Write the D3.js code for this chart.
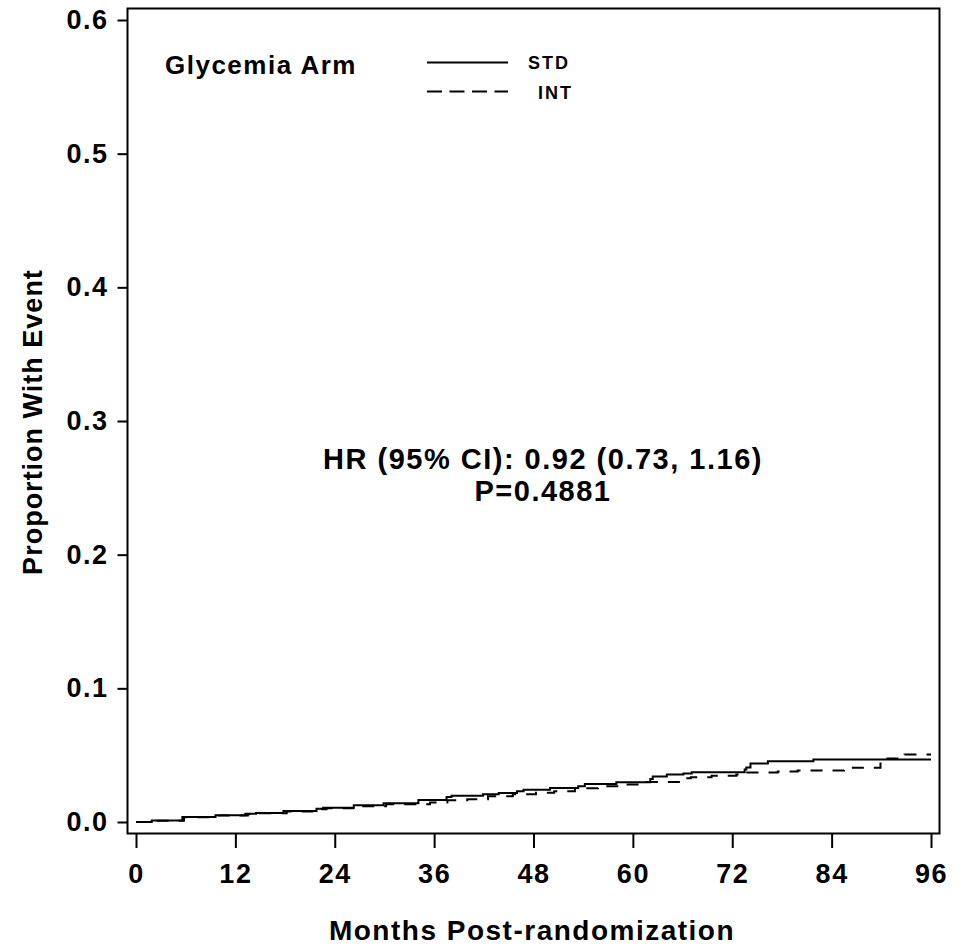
<!DOCTYPE html>
<html><head><meta charset="utf-8">
<script src="https://cdn.jsdelivr.net/npm/d3@7"></script>
<style>
body{margin:0;background:#fff;}
text{font-family:"Liberation Sans",Arial,sans-serif;font-weight:bold;fill:#000;}
</style></head>
<body><svg id="c" width="968" height="948"></svg>
<script>
const xTicks = [0,12,24,36,48,60,72,84,96];
const yTicks = [0.0,0.1,0.2,0.3,0.4,0.5,0.6];
const stdMonths = [0,1.9,5.6,9.6,13.2,14.5,17.8,21.8,22.6,26.3,29.9,34.1,37.5,38.1,41.9,43.8,46.0,46.8,50.0,53.4,54.2,58.0,62.1,62.4,64.1,66.1,67.1,73.5,73.7,74.2,76.3,81.8,96];
const stdValues = [0,0.0012,0.0037,0.005,0.0062,0.0068,0.0082,0.0100,0.0107,0.0125,0.0140,0.0165,0.0187,0.0197,0.0207,0.0217,0.0230,0.0242,0.0255,0.0267,0.0285,0.0297,0.0322,0.0340,0.0355,0.0362,0.0372,0.0392,0.0408,0.0437,0.0455,0.0468,0.0468];
const intMonths = [0,2.0,5.8,9.8,13.5,15.0,18.2,22.0,23.0,26.8,30.2,35.5,37.6,40.0,42.5,45.5,48.3,50.5,53.0,55.8,58.3,61.5,65.8,67.0,69.5,72.5,73.8,77.5,79.9,85.5,89.9,92.8,96];
const intValues = [0,0.0010,0.0035,0.0048,0.0058,0.0065,0.0078,0.0095,0.0102,0.0118,0.0133,0.0146,0.0163,0.0170,0.0193,0.0208,0.0218,0.0230,0.0252,0.0267,0.0280,0.0300,0.0327,0.0335,0.0346,0.0355,0.0370,0.0377,0.0385,0.0405,0.0476,0.0505,0.0505];
const legendTitle = "Glycemia Arm";
const seriesNames = ["STD","INT"];
const xTitle = "Months Post-randomization";
const yTitle = "Proportion With Event";
const annot1 = "HR (95% CI): 0.92 (0.73, 1.16)";
const annot2 = "P=0.4881";

const svg = d3.select("#c");
const x = d3.scaleLinear().domain([0,96]).range([136,931]);
const y = d3.scaleLinear().domain([0,0.6]).range([822,20]);

// frame
svg.append("rect").attr("x",127.5).attr("y",8.5).attr("width",812).attr("height",825)
  .attr("fill","none").attr("stroke","#000").attr("stroke-width",2);

// y axis
const ya = svg.append("g").attr("transform","translate(127.5,0)")
  .call(d3.axisLeft(y).tickValues(yTicks).tickFormat(d3.format(".1f")).tickSize(10).tickPadding(9));
ya.select(".domain").remove();
ya.selectAll("line").attr("stroke","#000").attr("stroke-width",2);
ya.selectAll("text").style("font-size","27px").style("letter-spacing","1.5px");

// x axis
const xa = svg.append("g").attr("transform","translate(0,834)")
  .call(d3.axisBottom(x).tickValues(xTicks).tickFormat(d3.format("d")).tickSize(14).tickPadding(16));
xa.select(".domain").remove();
xa.selectAll("line").attr("stroke","#000").attr("stroke-width",2);
xa.selectAll("text").style("font-size","27px").style("letter-spacing","1.5px");

// titles
svg.append("text").attr("x",532).attr("y",940).attr("text-anchor","middle")
  .style("font-size","28px").style("letter-spacing","1.5px").text(xTitle);
svg.append("text").attr("transform","translate(42,422) rotate(-90)").attr("text-anchor","middle")
  .style("font-size","27px").style("letter-spacing","1px").text(yTitle);

// curves
const line = d3.line().x(d=>x(d[0])).y(d=>y(d[1])).curve(d3.curveStepAfter);
const stdData = stdMonths.map((m,i)=>[m,stdValues[i]]);
const intData = intMonths.map((m,i)=>[m,intValues[i]]);
svg.append("path").attr("d",line(stdData)).attr("fill","none").attr("stroke","#000").attr("stroke-width",2);
svg.append("path").attr("d",line(intData)).attr("fill","none").attr("stroke","#000").attr("stroke-width",2)
  .attr("stroke-dasharray","12,10");

// legend
svg.append("text").attr("x",165).attr("y",74).style("font-size","26px").style("letter-spacing","1.5px").text(legendTitle);
svg.append("line").attr("x1",427).attr("x2",508).attr("y1",62.5).attr("y2",62.5).attr("stroke","#000").attr("stroke-width",2);
svg.append("line").attr("x1",427).attr("x2",508).attr("y1",91.5).attr("y2",91.5).attr("stroke","#000").attr("stroke-width",2).attr("stroke-dasharray","15,7.5");
svg.append("text").attr("x",528).attr("y",69).style("font-size","18px").style("letter-spacing","2px").text(seriesNames[0]);
svg.append("text").attr("x",538).attr("y",99).style("font-size","18px").style("letter-spacing","2px").text(seriesNames[1]);

// annotation
svg.append("text").attr("x",543).attr("y",469).attr("text-anchor","middle").style("font-size","29px").style("letter-spacing","1.5px").text(annot1);
svg.append("text").attr("x",543).attr("y",501).attr("text-anchor","middle").style("font-size","29px").style("letter-spacing","1.5px").text(annot2);
</script></body></html>
